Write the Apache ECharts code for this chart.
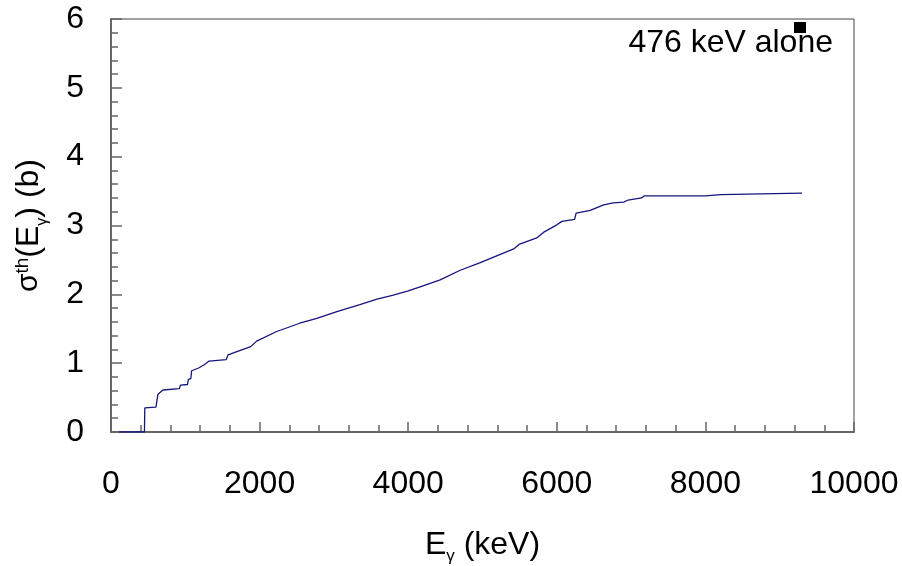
<!DOCTYPE html>
<html>
<head>
<meta charset="utf-8">
<script src="https://cdn.jsdelivr.net/npm/echarts@6.0.0/dist/echarts.min.js"></script>
<style>
  html, body { margin: 0; padding: 0; background: #fff; }
  #chart { width: 902px; height: 566px; }
</style>
</head>
<body>
<div id="chart"></div>
<script>
// gamma energy (keV) and sigma_th (b)
var energies = [110, 450, 455, 605, 625, 632, 700, 920, 935, 1030, 1040, 1075, 1085, 1180, 1260, 1320,
  1550, 1575, 1750, 1880, 1960, 2230, 2540, 2770, 3040, 3350, 3580, 3800, 4000, 4160, 4430,
  4700, 4970, 5240, 5420, 5500, 5730, 5820, 6000, 6070, 6240, 6260, 6450, 6630, 6760, 6900,
  6960, 7140, 7175, 8005, 8010, 8205, 8215, 9300]
var sigma = [0, 0, 0.35, 0.36, 0.37, 0.55, 0.61, 0.63, 0.68, 0.69, 0.76, 0.78, 0.89, 0.93, 0.98, 1.03,
  1.05, 1.12, 1.19, 1.24, 1.32, 1.46, 1.58, 1.65, 1.75, 1.85, 1.93, 1.99, 2.05, 2.11, 2.21,
  2.35, 2.46, 2.58, 2.66, 2.73, 2.82, 2.90, 3.01, 3.06, 3.09, 3.18, 3.22, 3.30, 3.33, 3.34,
  3.37, 3.40, 3.43, 3.43, 3.45, 3.45, 3.47, 3.47]
var legendText = '476 keV alone'

var points = energies.map(function (e, i) { return [e, sigma[i]] })

var font = "'Liberation Sans', Arial, sans-serif"
var chart = echarts.init(document.getElementById('chart'))

var option = {
  animation: false,
  backgroundColor: '#fff',
  textStyle: { fontFamily: font, color: '#000' },
  grid: {
    left: 111, top: 19, right: 48, bottom: 134,
    outerBoundsMode: 'none',
    containLabel: false,
    show: true, borderColor: '#444', borderWidth: 1
  },
  xAxis: {
    type: 'value', min: 0, max: 10000, interval: 2000,
    axisLine: { lineStyle: { color: '#666', width: 2 } },
    axisTick: { inside: true, length: 10, lineStyle: { color: '#666', width: 1.5 } },
    minorTick: { show: true, splitNumber: 5, length: 7, lineStyle: { color: '#666', width: 1.5 } },
    splitLine: { show: false },
    axisLabel: {
      fontSize: 32, color: '#000', margin: 36, fontFamily: font,
      formatter: function (v) { return String(v) }
    },
    name: '{p|E}{g|γ}{p| (keV)}',
    nameLocation: 'middle',
    nameGap: 97,
    nameTextStyle: {
      rich: {
        p: { fontSize: 32, fontFamily: font, color: '#000' },
        g: { fontSize: 17, fontFamily: font, color: '#000', verticalAlign: 'bottom', padding: [0, 0, -4, 0] }
      }
    }
  },
  yAxis: {
    type: 'value', min: 0, max: 6, interval: 1,
    axisLine: { lineStyle: { color: '#666', width: 2 } },
    axisTick: { inside: true, length: 11, lineStyle: { color: '#666', width: 1.5 } },
    minorTick: { show: true, splitNumber: 5, length: 7, lineStyle: { color: '#666', width: 1.5 } },
    splitLine: { show: false },
    axisLabel: { fontSize: 32, color: '#000', margin: 27, fontFamily: font },
    name: '{s|σ}{t|th}{p|(E}{g|γ}{p|) (b)}',
    nameLocation: 'middle',
    nameRotate: 90,
    nameGap: 66,
    nameTextStyle: {
      rich: {
        s: { fontSize: 30, fontFamily: font, color: '#000' },
        t: { fontSize: 19, fontFamily: font, color: '#000', verticalAlign: 'top' },
        p: { fontSize: 32, fontFamily: font, color: '#000' },
        g: { fontSize: 16, fontFamily: font, color: '#000', verticalAlign: 'bottom', padding: [0, 0, -6, 0] }
      }
    }
  },
  series: [
    {
      type: 'line',
      data: points,
      showSymbol: false,
      lineStyle: { color: '#14147f', width: 1.3 }
    }
  ],
  graphic: [
    // legend marker and label
    { type: 'rect', shape: { x: 794, y: 22, width: 12, height: 11 }, style: { fill: '#000' } },
    {
      type: 'text', x: 833, y: 43,
      style: { text: legendText, font: '32px ' + font, fill: '#000', align: 'right', verticalAlign: 'middle' }
    }
  ]
}

chart.setOption(option)
</script>
</body>
</html>
